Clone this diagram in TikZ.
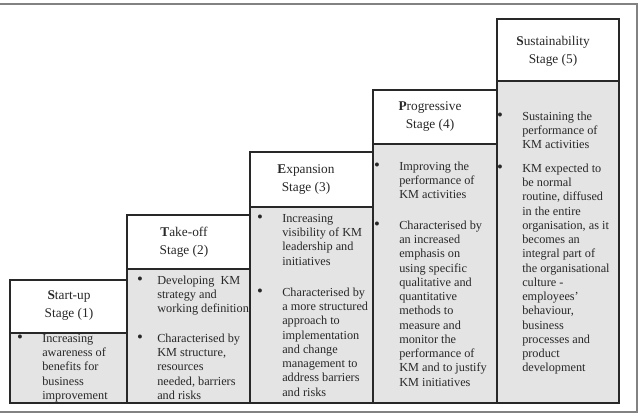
\documentclass[tikz,border=0pt]{standalone}
\usepackage{fontspec}
\setmainfont{Liberation Serif}
\usetikzlibrary{positioning}
\definecolor{KmLine}{RGB}{40,40,40}
\definecolor{KmFill}{RGB}{228,228,228}
\definecolor{KmFrame}{RGB}{130,130,130}
\tikzset{
  km/head/.style={draw=KmLine, line width=0.9pt, fill=white},
  km/body/.style={draw=KmLine, line width=0.9pt, fill=KmFill},
  km/title/.style={align=center, inner sep=0pt, text=KmLine, font=\fontsize{10}{13.5}\selectfont},
  km/item/.style={anchor=north west, align=left, inner sep=0pt, text=KmLine, font=\fontsize{9.2}{10.7}\selectfont},
  km/bullet/.style={anchor=north, inner sep=0pt, text=KmLine, font=\fontsize{12.5}{10.7}\selectfont},
  km/frame/.style={draw=KmFrame, line width=1.1pt}
}

\begin{document}
\begin{tikzpicture}[x=0.75pt,y=-0.75pt]
  \useasboundingbox (0,0) rectangle (640,416);
  \draw[km/frame] (0,4) -- (637,4) -- (637,412) -- (0,412);

  % stage 1
  \draw[km/head] (10,280) rectangle (128,333);
  \draw[km/body] (10,333) rectangle (128,403);
  \node[km/title] (t1) at (69,306) {\textbf{S}tart-up\\Stage (1)};
  \node[km/bullet] (b1a) at (20,332) {\strut\textbullet};
  \node[km/item] (i1a) at (42,332) {\strut Increasing\\awareness of\\benefits for\\business\\improvement};

  % stage 2
  \draw[km/head] (127,215) rectangle (250,269);
  \draw[km/body] (127,269) rectangle (250,403);
  \node[km/title] (t2) at (184,242) {\textbf{T}ake-off\\Stage (2)};
  \node[km/bullet] (b2a) at (140,274) {\strut\textbullet};
  \node[km/item] (i2a) at (157,274) {\strut Developing~ KM\\strategy and\\working definition};
  \node[km/bullet] (b2b) at (140,332) {\strut\textbullet};
  \node[km/item] (i2b) at (157,332) {\strut Characterised by\\KM structure,\\resources\\needed, barriers\\and risks};

  % stage 3
  \draw[km/head] (250,152) rectangle (373,207);
  \draw[km/body] (250,207) rectangle (373,403);
  \node[km/title] (t3) at (306,180) {\textbf{E}xpansion\\Stage (3)};
  \node[km/bullet] (b3a) at (260,212) {\strut\textbullet};
  \node[km/item] (i3a) at (282,212) {\strut Increasing\\visibility of KM\\leadership and\\initiatives};
  \node[km/bullet] (b3b) at (260,286) {\strut\textbullet};
  \node[km/item] (i3b) at (282,286) {\strut Characterised by\\a more structured\\approach to\\implementation\\and change\\management to\\address barriers\\and risks};

  % stage 4
  \draw[km/head] (373,90) rectangle (497,144);
  \draw[km/body] (373,144) rectangle (497,403);
  \node[km/title] (t4) at (430,117) {\textbf{P}rogressive\\Stage (4)};
  \node[km/bullet] (b4a) at (377,160) {\strut\textbullet};
  \node[km/item] (i4a) at (399,160) {\strut Improving the\\performance of\\KM activities};
  \node[km/bullet] (b4b) at (377,219) {\strut\textbullet};
  \node[km/item] (i4b) at (399,219) {\strut Characterised by\\an increased\\emphasis on\\using specific\\qualitative and\\quantitative\\methods to\\measure and\\monitor the\\performance of\\KM and to justify\\KM initiatives};

  % stage 5
  \draw[km/head] (497,19) rectangle (619,81);
  \draw[km/body] (497,81) rectangle (619,403);
  \node[km/title] (t5) at (553,51) {\textbf{S}ustainability\\Stage (5)};
  \node[km/bullet] (b5a) at (500,110) {\strut\textbullet};
  \node[km/item] (i5a) at (522,110) {\strut Sustaining the\\performance of\\KM activities};
  \node[km/bullet] (b5b) at (500,162) {\strut\textbullet};
  \node[km/item] (i5b) at (522,162) {\strut KM expected to\\be normal\\routine, diffused\\in the entire\\organisation, as it\\becomes an\\integral part of\\the organisational\\culture -\\employees'\\behaviour,\\business\\processes and\\product\\development};
\end{tikzpicture}
\end{document}
